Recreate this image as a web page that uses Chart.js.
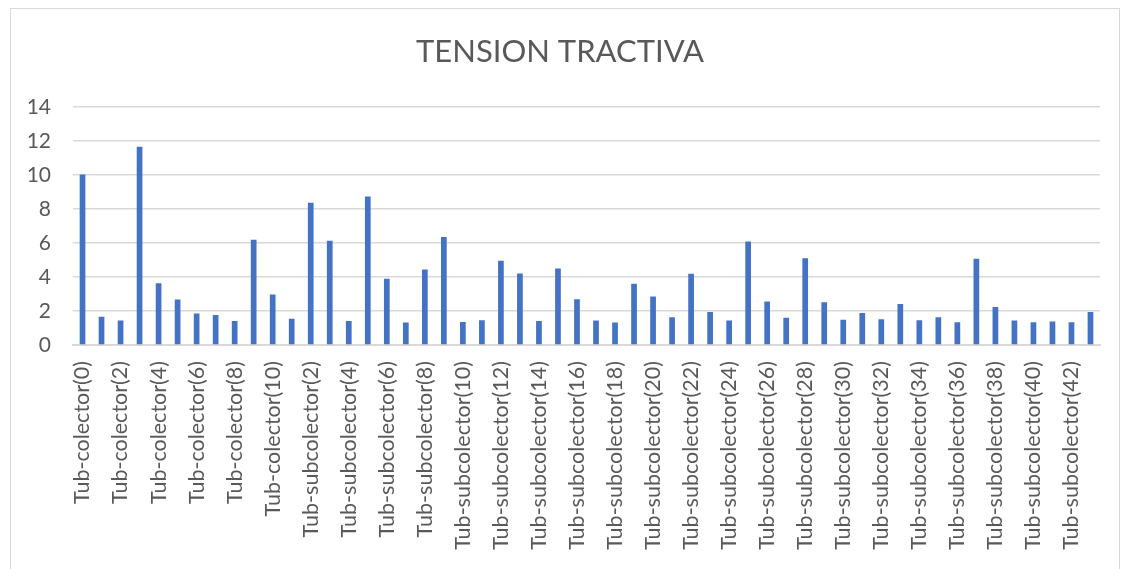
<!DOCTYPE html>
<html>
<head>
<meta charset="utf-8">
<script src="https://cdn.jsdelivr.net/npm/chart.js@4"></script>
<style>
  body { margin: 0; background: #fff; }
  #wrap { position: relative; width: 1128px; height: 569px; }
  #frame { position: absolute; left: 10px; top: 8px; width: 1108px; height: 580px; border: 1px solid #d9d9d9; pointer-events: none; }
</style>
</head>
<body>
<div id="wrap">
  <canvas id="bar-chart" width="1128" height="569"></canvas>
  <div id="frame"></div>
</div>
<script>
// categorias: Tub-colector(0..10) y Tub-subcolector(1..43)
const colectores = ['Tub-colector(0)', 'Tub-colector(1)', 'Tub-colector(2)', 'Tub-colector(3)', 'Tub-colector(4)',
    'Tub-colector(5)', 'Tub-colector(6)', 'Tub-colector(7)', 'Tub-colector(8)', 'Tub-colector(9)', 'Tub-colector(10)'];
const subcolectores = ['Tub-subcolector(1)', 'Tub-subcolector(2)', 'Tub-subcolector(3)', 'Tub-subcolector(4)',
    'Tub-subcolector(5)', 'Tub-subcolector(6)', 'Tub-subcolector(7)', 'Tub-subcolector(8)', 'Tub-subcolector(9)',
    'Tub-subcolector(10)', 'Tub-subcolector(11)', 'Tub-subcolector(12)', 'Tub-subcolector(13)', 'Tub-subcolector(14)',
    'Tub-subcolector(15)', 'Tub-subcolector(16)', 'Tub-subcolector(17)', 'Tub-subcolector(18)', 'Tub-subcolector(19)',
    'Tub-subcolector(20)', 'Tub-subcolector(21)', 'Tub-subcolector(22)', 'Tub-subcolector(23)', 'Tub-subcolector(24)',
    'Tub-subcolector(25)', 'Tub-subcolector(26)', 'Tub-subcolector(27)', 'Tub-subcolector(28)', 'Tub-subcolector(29)',
    'Tub-subcolector(30)', 'Tub-subcolector(31)', 'Tub-subcolector(32)', 'Tub-subcolector(33)', 'Tub-subcolector(34)',
    'Tub-subcolector(35)', 'Tub-subcolector(36)', 'Tub-subcolector(37)', 'Tub-subcolector(38)', 'Tub-subcolector(39)',
    'Tub-subcolector(40)', 'Tub-subcolector(41)', 'Tub-subcolector(42)', 'Tub-subcolector(43)'];
const categorias = colectores.concat(subcolectores);

// tension tractiva por tramo
const tension = [10.04, 1.67, 1.44, 11.67, 3.64, 2.68, 1.85, 1.77, 1.42, 6.2, 2.97,
    1.54, 8.37, 6.14, 1.42, 8.74, 3.9, 1.32, 4.45, 6.36, 1.36, 1.46, 4.96, 4.21, 1.42,
    4.51, 2.7, 1.44, 1.32, 3.6, 2.85, 1.63, 4.19, 1.95, 1.44, 6.1, 2.56, 1.61, 5.1,
    2.52, 1.48, 1.89, 1.52, 2.42, 1.46, 1.63, 1.34, 5.08, 2.24, 1.44, 1.34, 1.38, 1.34, 1.95];

const ejeY = { min: 0, max: 14, step: 2 };

const gris = '#595959';
const fuente = 'Lato, Carlito, Calibri, sans-serif';

new Chart(document.getElementById("bar-chart"), {
    type: 'bar',
    data: {
        labels: categorias,
        datasets: [{
            label: "TENSION TRACTIVA",
            data: tension,
            backgroundColor: "#4472C4",   // azul excel
            barPercentage: 0.3,
            categoryPercentage: 1.0
        }]
    },
    options: {
        responsive: false,
        animation: false,
        layout: { padding: { left: 20, right: 28, top: 0, bottom: 0 } },
        plugins: {
            legend: { display: false },
            tooltip: { enabled: false },
            title: {
                display: true,
                text: 'TENSION TRACTIVA',
                color: gris,
                font: { family: fuente, size: 31, weight: 'normal' },
                padding: { top: 33, bottom: 37 }
            }
        },
        scales: {
            x: {
                grid: { display: false },
                border: { color: '#d9d9d9', width: 2 },
                ticks: {
                    autoSkip: false,
                    maxRotation: 90,
                    minRotation: 90,
                    color: gris,
                    padding: 8,
                    font: { family: fuente, size: 21.5 },
                    callback: function (v, i) { return i % 2 === 0 ? categorias[i] : ''; }
                },
                afterFit: function (s) { s.height = 224; }
            },
            y: {
                min: ejeY.min,
                max: ejeY.max,
                grid: { color: '#d9d9d9', lineWidth: 1.5, drawTicks: false },
                border: { display: false },
                ticks: {
                    stepSize: ejeY.step,
                    color: gris,
                    padding: 22,
                    font: { family: fuente, size: 21 }
                },
                afterFit: function (s) { s.width = 53; }
            }
        }
    }
});
</script>
</body>
</html>
